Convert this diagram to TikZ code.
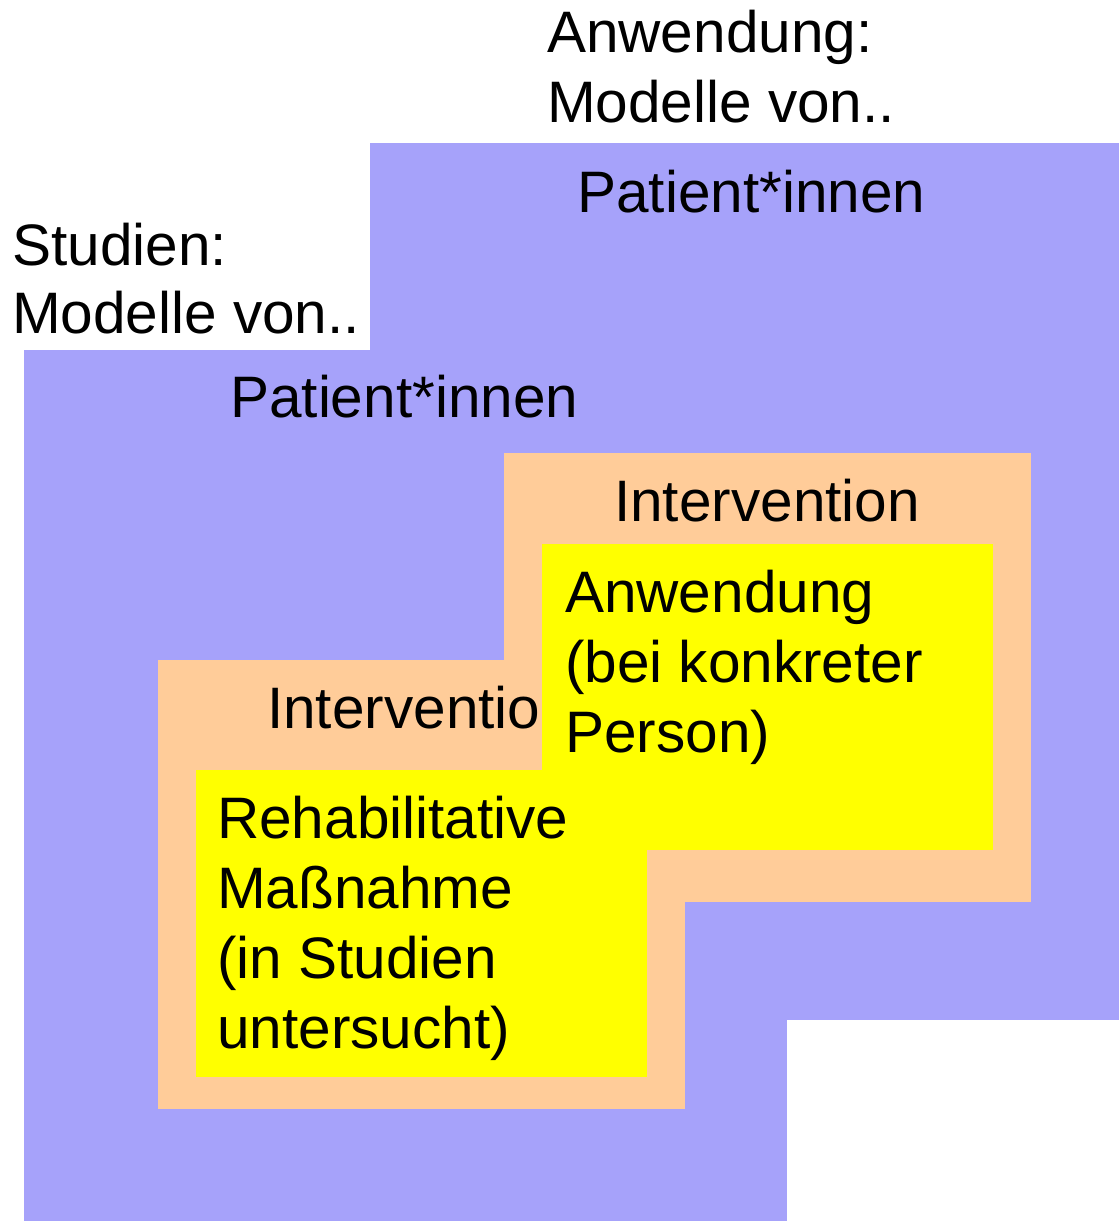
\documentclass[tikz,border=0pt]{standalone}
\usepackage{fontspec}
\setmainfont{Liberation Sans}
\definecolor{patientfill}{RGB}{166,162,250}
\definecolor{intervfill}{RGB}{255,204,153}
\definecolor{measurefill}{RGB}{255,255,0}
\begin{document}
\begin{tikzpicture}[x=1pt,y=-1pt,
  patientarea/.style={fill=patientfill},
  intervarea/.style={fill=intervfill},
  measurearea/.style={fill=measurefill},
  % multi-line nodes: the base anchor sits on the last line
  txt/.style={anchor=base west, inner sep=0pt, align=left,
              font=\fontsize{58.5}{70}\selectfont},
  studytxt/.style={txt, font=\fontsize{58.5}{68}\selectfont}]
\useasboundingbox (0,0) rectangle (1119,1221);

% patient layers: application (back) and studies (front)
\fill[patientarea] (370,143) rectangle (1119,1020);
\fill[patientarea] (24,350) rectangle (787,1221);

% intervention layers
\fill[intervarea] (504,453) rectangle (1031,902);
\fill[intervarea] (158,660) rectangle (685,1109);
\node[txt] (intStudy) at (267,728) {Intervention};

% concrete measures
\fill[measurearea] (542,544) rectangle (993,850);
\fill[measurearea] (196,770) rectangle (647,1077);

% headings
\node[txt] (headApp) at (547,122) {Anwendung:\\Modelle von..};
\node[studytxt] (headStudy) at (12,333) {Studien:\\Modelle von..};

% layer labels
\node[txt] (patApp) at (577,212) {Patient*innen};
\node[txt] (patStudy) at (230,417) {Patient*innen};
\node[txt] (intApp) at (614,521) {Intervention};

% box texts
\node[txt] (measApp) at (565,752) {Anwendung\\(bei konkreter\\Person)};
\node[txt] (measStudy) at (217,1048) {Rehabilitative\\Maßnahme\\(in Studien\\untersucht)};
\end{tikzpicture}
\end{document}
